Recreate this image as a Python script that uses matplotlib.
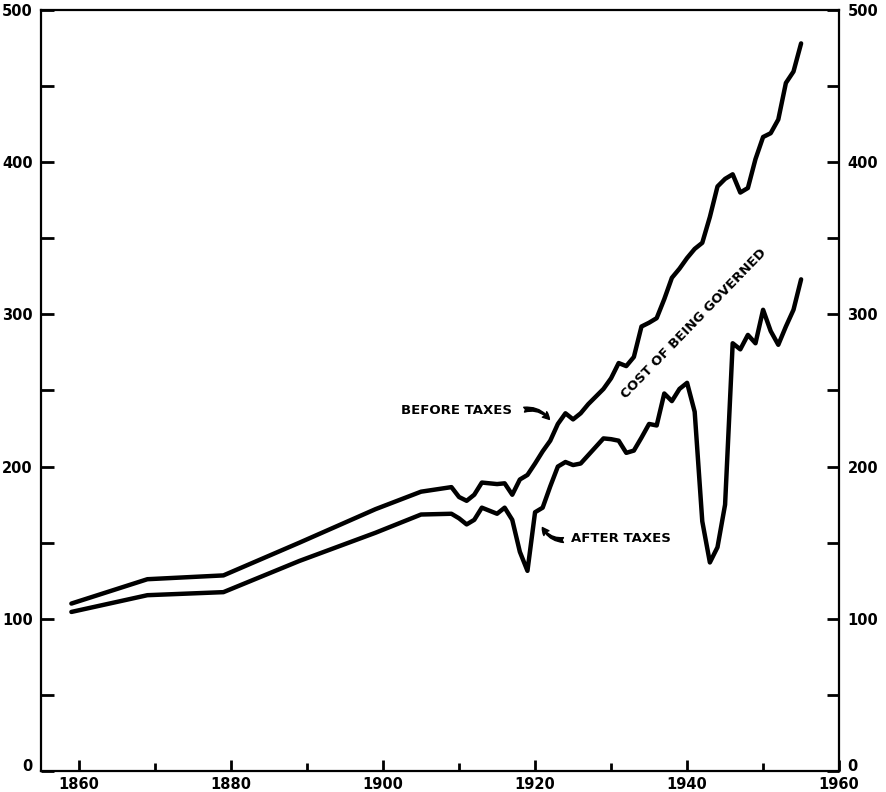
import matplotlib
matplotlib.use('Agg')
import matplotlib.pyplot as plt
import matplotlib.transforms as mtransforms
from matplotlib.ticker import MultipleLocator

# index values
years = [1859, 1869, 1879, 1889, 1899, 1905, 1909, 1910, 1911, 1912, 1913, 1914,
         1915, 1916, 1917, 1918, 1919, 1920, 1921, 1922, 1923, 1924, 1925, 1926,
         1927, 1928, 1929, 1930, 1931, 1932, 1933, 1934, 1935, 1936, 1937, 1938,
         1939, 1940, 1941, 1942, 1943, 1944, 1945, 1946, 1947, 1948, 1949, 1950,
         1951, 1952, 1953, 1954, 1955]
before_taxes = [110, 126, 128.5, 150, 172, 183.5, 186.5, 180, 177.5, 181.5, 189.5, 189,
                188.5, 189, 181.5, 191.5, 194.5, 202, 210, 217, 228, 235, 231, 235,
                241, 246, 251, 258, 268, 266, 272, 292, 294.5, 297.5, 310, 324,
                330, 337, 343, 347, 364, 384, 389, 392, 380, 383, 402, 416.5,
                419, 428, 452, 459.5, 478]
after_taxes = [104.5, 115.5, 117.5, 138, 156.5, 168.5, 169, 166, 162, 165, 173, 171,
               169, 173, 165, 144, 131.5, 170, 173, 187, 200, 203, 201, 202,
               207.5, 213, 218.5, 218, 217, 209, 210.5, 219, 228, 227, 248, 243,
               251, 255, 236, 164, 137, 147, 175, 281, 277, 286.5, 281, 303,
               289, 280, 292, 303, 323]

fig = plt.figure(figsize=(8.87, 7.92), dpi=100)
ax = fig.add_axes([0.0462, 0.0265, 0.8998, 0.961])

ax.plot(years, before_taxes, color='black', lw=3.2, solid_joinstyle='round',
        solid_capstyle='round')
ax.plot(years, after_taxes, color='black', lw=3.2, solid_joinstyle='round',
        solid_capstyle='round')

ax.set_xlim(1855, 1960)
ax.set_ylim(0, 500)

for s in ax.spines.values():
    s.set_linewidth(1.6)

ax.xaxis.set_major_locator(MultipleLocator(20))
ax.xaxis.set_minor_locator(MultipleLocator(10))
ax.yaxis.set_major_locator(MultipleLocator(100))
ax.yaxis.set_minor_locator(MultipleLocator(50))

ax.tick_params(axis='x', which='major', direction='in', length=8, width=2,
               pad=4, labelsize=10.5)
ax.tick_params(axis='x', which='minor', direction='in', length=6, width=2)
ax.tick_params(axis='y', which='both', direction='in', length=9, width=2,
               left=True, right=True, labelleft=True, labelright=True,
               labelsize=10.5, pad=6)
for lab in ax.get_xticklabels() + ax.get_yticklabels():
    lab.set_fontweight('bold')

# lift the "0" labels a little so they clear the year labels
fig.canvas.draw()
nudge = mtransforms.ScaledTranslation(0, 4 / 72, fig.dpi_scale_trans)
for t in ax.yaxis.get_major_ticks():
    if abs(t.get_loc()) < 1e-9:
        t.label1.set_transform(t.label1.get_transform() + nudge)
        t.label2.set_transform(t.label2.get_transform() + nudge)

lab_font = dict(fontsize=9.5, fontweight='bold', color='black')
arrow_style = 'fancy,head_length=0.5,head_width=0.5,tail_width=0.35'

ax.text(1909.7, 237, 'BEFORE TAXES', ha='center', va='center', **lab_font)
ax.annotate('', xy=(1922.1, 229.5), xytext=(1918.2, 237),
            arrowprops=dict(arrowstyle=arrow_style, color='black',
                            connectionstyle='arc3,rad=-0.35'))

ax.text(1931.3, 153, 'AFTER TAXES', ha='center', va='center', **lab_font)
ax.annotate('', xy=(1920.8, 161.6), xytext=(1924.1, 151.8),
            arrowprops=dict(arrowstyle=arrow_style, color='black',
                            connectionstyle='arc3,rad=-0.35'))

ax.text(1940.9, 294, 'COST OF BEING GOVERNED', ha='center', va='center',
        rotation=46, rotation_mode='anchor', **lab_font)

fig.savefig('out.png', dpi=100)
plt.close()
